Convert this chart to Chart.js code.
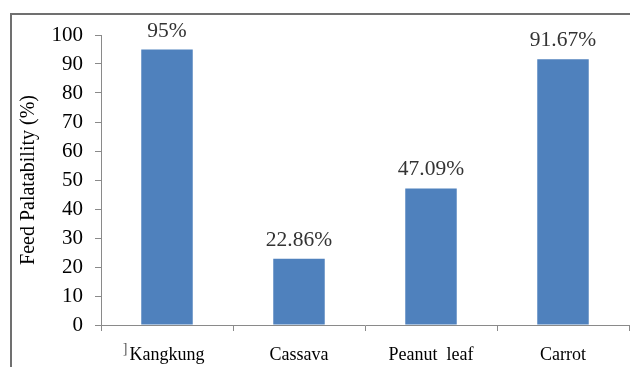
<!DOCTYPE html>
<html>
<head>
<meta charset="utf-8">
<script src="https://cdn.jsdelivr.net/npm/chart.js@4"></script>
<style>
  html, body { margin: 0; padding: 0; background: #fff; }
  canvas { display: block; }
</style>
</head>
<body>
<canvas id="c" width="630" height="367"></canvas>
<script>
const categories = ["Kangkung", "Cassava", "Peanut  leaf", "Carrot"];
const palatability = [95, 22.86, 47.09, 91.67];
const valueLabels = ["95%", "22.86%", "47.09%", "91.67%"];
const yTicks = [0, 10, 20, 30, 40, 50, 60, 70, 80, 90, 100];

const serif = "'Liberation Serif', 'Times New Roman', serif";

const framePlugin = {
  id: 'frame',
  beforeDatasetsDraw(chart) {
    const ctx = chart.ctx;
    ctx.save();
    ctx.fillStyle = '#707070';
    ctx.fillRect(10, 13, chart.width - 10, 2);
    ctx.fillRect(10, 13, 2, chart.height - 13);
    ctx.restore();
  }
};

const valueLabelPlugin = {
  id: 'valueLabels',
  afterDatasetsDraw(chart) {
    const ctx = chart.ctx;
    const meta = chart.getDatasetMeta(0);
    ctx.save();
    ctx.font = "21.5px " + serif;
    ctx.fillStyle = "#333333";
    ctx.textAlign = "center";
    ctx.textBaseline = "alphabetic";
    meta.data.forEach((bar, i) => {
      ctx.fillText(valueLabels[i], bar.x, bar.y - 13);
    });
    // small bracket glyph present in the reference at the start of the label row
    const xs = chart.scales.x;
    ctx.font = "14px " + serif;
    ctx.fillStyle = "#555";
    ctx.fillText("]", xs.left + 24, xs.top + 28);
    ctx.restore();
  }
};

new Chart(document.getElementById('c'), {
  type: 'bar',
  data: {
    labels: categories,
    datasets: [{
      data: palatability,
      backgroundColor: '#4F81BD',
      borderWidth: 0,
      categoryPercentage: 1.0,
      barPercentage: 0.39
    }]
  },
  options: {
    responsive: false,
    animation: false,
    devicePixelRatio: 1,
    layout: { padding: { top: 35, right: 1, left: 0, bottom: 0 } },
    plugins: { legend: { display: false }, tooltip: { enabled: false } },
    scales: {
      x: {
        grid: { display: true, drawOnChartArea: false, drawTicks: true, tickLength: 6,
                color: '#8a8a8a', offset: true },
        border: { display: true, color: '#8a8a8a', width: 1 },
        ticks: { font: { family: serif, size: 18 }, color: '#000', padding: 13, maxRotation: 0 },
        afterFit(scale) { scale.height = 42; }
      },
      y: {
        min: 0, max: 100,
        afterBuildTicks(scale) { scale.ticks = yTicks.map(v => ({ value: v })); },
        grid: { display: true, drawOnChartArea: false, drawTicks: true, tickLength: 6, color: '#8a8a8a' },
        border: { display: true, color: '#8a8a8a', width: 1 },
        ticks: { font: { family: serif, size: 21 }, color: '#000', padding: 12 },
        title: { display: true, text: 'Feed Palatability (%)', font: { family: serif, size: 20 },
                 color: '#000', padding: { top: 17, bottom: 0 } },
        afterFit(scale) { scale.width = 101; }
      }
    }
  },
  plugins: [framePlugin, valueLabelPlugin]
});
</script>
</body>
</html>
